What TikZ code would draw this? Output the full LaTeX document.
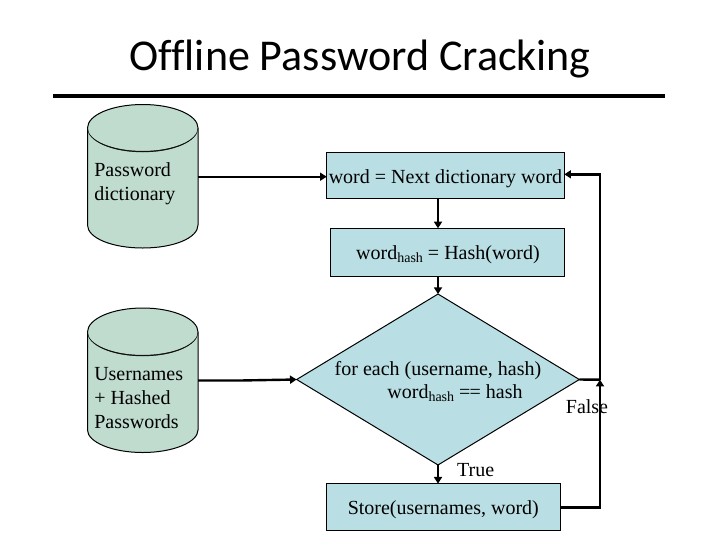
\documentclass[tikz,border=0pt]{standalone}
\usepackage{fontspec}
\setmainfont{Liberation Serif}
\newfontfamily\titlefont[Ligatures=NoCommon]{Carlito}
\usetikzlibrary{arrows.meta,shapes.geometric,calc}
\definecolor{dbfill}{HTML}{BFDCCF}
\definecolor{boxfill}{HTML}{B9DEE3}
\definecolor{rimink}{HTML}{101010}
\newcommand{\hashsub}{\raisebox{-2.4pt}{\fontsize{10.5}{12}\selectfont hash}}
\tikzset{
  x=0.75pt,y=-0.75pt,
  bodytext/.style={font=\fontsize{15}{18}\selectfont,inner sep=0pt,text=black},
  labeltext/.style={bodytext,anchor=base},
  flowbox/.style={draw=black,fill=boxfill,line width=0.75pt,inner sep=0pt,outer sep=0pt},
  dbshape/.style={draw=black,fill=dbfill,line width=0.75pt},
  dbrim/.style={fill=rimink,draw=rimink,line width=0.3pt},
  dbcore/.style={inner sep=0pt,outer sep=0pt,minimum width=82.9pt,minimum height=72.8pt},
  link/.style={draw=black,line width=1.8pt,-{Triangle[length=5pt,width=6pt]}},
  plainlink/.style={draw=black,line width=1.8pt},
}
\begin{document}
\begin{tikzpicture}
\useasboundingbox (0,0) rectangle (720,540);
\fill[white] (0,0) rectangle (720,540);

% title
\node[font=\titlefont\fontsize{33}{36}\selectfont,anchor=base,inner sep=0pt,text=black] (title) at (360,70) {Offline Password Cracking};
\coordinate (ruleL) at (53,96);
\coordinate (ruleR) at (665,96);
\draw[line width=3pt,black] (ruleL) -- (ruleR);

% cylinder 1
\draw[dbshape] (87.5,128) .. controls (87.5,115) and (112,104.5) .. (142.75,104.5) .. controls (173.5,104.5) and (198,115) .. (198,128) -- (198,225) .. controls (198,238) and (173.5,248) .. (142.75,248) .. controls (112,248) and (87.5,238) .. (87.5,225) -- cycle;
\node[dbcore] (db1) at (142.75,176.7) {};
\node[labeltext,anchor=base west] (db1a) at (94,176) {Password};
\node[labeltext,anchor=base west] (db1b) at (94,200) {dictionary};
\path[dbrim] (87.5,128) .. controls (87.5,141.2) and (112,152) .. (142.75,152) .. controls (173.5,152) and (198,141.2) .. (198,128) .. controls (198,140.6) and (173.5,151.2) .. (142.75,151.2) .. controls (112,151.2) and (87.5,140.6) .. (87.5,128) -- cycle;

% cylinder 2
\draw[dbshape] (87.5,332) .. controls (87.5,319) and (112,308) .. (142.75,308) .. controls (173.5,308) and (198,319) .. (198,332) -- (198,430) .. controls (198,442) and (173.5,452.5) .. (142.75,452.5) .. controls (112,452.5) and (87.5,442) .. (87.5,430) -- cycle;
\node[dbcore] (db2) at (142.75,380.5) {};
\node[labeltext,anchor=base west] (db2a) at (94,380) {Usernames};
\node[labeltext,anchor=base west] (db2b) at (94,404) {+ Hashed};
\node[labeltext,anchor=base west] (db2c) at (94,428) {Passwords};
\path[dbrim] (87.5,332) .. controls (87.5,345.2) and (112,356) .. (142.75,356) .. controls (173.5,356) and (198,345.2) .. (198,332) .. controls (198,344.6) and (173.5,355.2) .. (142.75,355.2) .. controls (112,355.2) and (87.5,344.6) .. (87.5,332) -- cycle;

% process boxes
\node[flowbox,minimum width=178.2pt,minimum height=34.2pt] (next) at (445.5,175.5) {};
\node[labeltext] (nexttext) at (445.5,183) {word = Next dictionary word};
\node[flowbox,minimum width=175.5pt,minimum height=35.8pt] (hash) at (447.3,252.2) {};
\node[labeltext] (hashtext) at (448,259) {word\hashsub{} = Hash(word)};
\node[flowbox,minimum width=175.5pt,minimum height=35.5pt] (store) at (443.3,507.3) {};
\node[labeltext] (storetext) at (443.3,514) {Store(usernames, word)};

% decision
\node[draw=black,fill=boxfill,line width=0.75pt,diamond,aspect=1.65,inner sep=0pt,outer sep=0pt,minimum width=212pt,minimum height=128.2pt] (check) at (438,379.5) {};
\node[labeltext] (checka) at (438,375) {for each (username, hash)};
\node[labeltext] (checkb) at (455,398.5) {word\hashsub{} =\kern-0.6pt= hash};

% connectors
\coordinate (loopbottom) at (600,507.5);
\coordinate (loopjoin) at (600,379.7);
\coordinate (looptop) at (600,174.3);
\draw[link] (db1.east) -- (db1.east -| next.west);
\draw[link] (db2.east) -- ($(db2.east)+(42,0)$) -- (check.west);
\draw[link] (next.south -| check.north) -- (hash.north -| check.north);
\draw[link] (hash.south -| check.north) -- (check.north);
\draw[link] (check.south) -- (store.north -| check.south);
\draw[plainlink] (check.east) -- (loopjoin);
\draw[link] (loopjoin) -- (looptop) -- (looptop -| next.east);
\draw[link] (store.east |- loopbottom) -- (loopbottom) -- (loopjoin);

% branch labels
\node[labeltext] (truelabel) at (475.7,476.5) {True};
\node[labeltext] (falselabel) at (587,413) {False};
\end{tikzpicture}
\end{document}
